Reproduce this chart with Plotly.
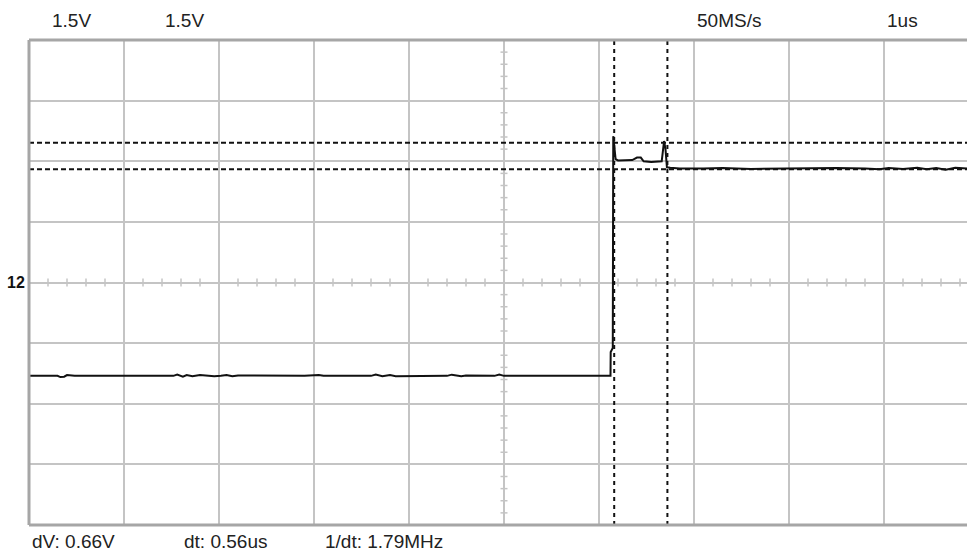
import plotly.graph_objects as go

# ---- data (time in µs, voltage in V; 1 µs/div, 1.5 V/div) ----
t_us = [0.00, 0.30, 0.33, 0.37, 0.40, 0.48, 1.00, 1.52, 1.56, 1.62, 1.66, 1.72, 1.80,
        1.95, 2.02, 2.08, 2.14, 2.20, 2.90, 3.05, 3.10, 3.60, 3.65, 3.72, 3.80, 3.86,
        4.40, 4.45, 4.55, 4.60, 4.90, 4.95, 5.00, 5.50, 6.121,
        6.123, 6.145, 6.150, 6.175, 6.20, 6.35, 6.40, 6.44, 6.47, 6.55, 6.66,
        6.685, 6.700, 6.715, 6.75, 6.85, 7.10, 7.30, 7.60, 7.90, 8.20, 8.50,
        8.80, 8.95, 9.05, 9.20, 9.35, 9.45, 9.55, 9.65, 9.75, 9.874]
v_V = [-2.31, -2.31, -2.34, -2.33, -2.29, -2.31, -2.31, -2.31, -2.28, -2.33, -2.29, -2.32, -2.29,
       -2.32, -2.31, -2.29, -2.32, -2.30, -2.31, -2.29, -2.31, -2.31, -2.28, -2.32, -2.29, -2.32,
       -2.31, -2.28, -2.32, -2.30, -2.31, -2.28, -2.31, -2.31, -2.31,
       -1.72, -1.62, 3.62, 3.05, 3.02, 3.03, 3.09, 3.09, 3.00, 2.98, 3.00,
       3.50, 3.30, 2.85, 2.84, 2.82, 2.82, 2.83, 2.81, 2.82, 2.82, 2.83,
       2.82, 2.80, 2.83, 2.81, 2.84, 2.80, 2.83, 2.79, 2.84, 2.82]

cursor_t = [6.16, 6.72]          # vertical cursors (µs)
cursor_v = [3.46, 2.80]          # horizontal cursors (V)

top_labels = ["1.5V", "1.5V", "50MS/s", "1us"]
top_label_px = [50, 163, 695, 885]
bottom_labels = ["dV: 0.66V", "dt: 0.56us", "1/dt: 1.79MHz"]
bottom_label_px = [30, 182, 323]
channel_label = "12"

# ---- geometry ----
W, H = 967, 555
L, T, B = 29, 40, 30
div_px = 95.0
plot_w = W - L
x_max = plot_w / div_px          # visible part of the 10 divisions
v_per_div = 1.5
y_min, y_max = -4 * v_per_div, 4 * v_per_div
plot_h = H - T - B

grid_col = "#c4c4c4"
font_fam = "Liberation Sans, Arial, sans-serif"

fig = go.Figure()

# small ticks on the centre cross
tx, ty = [], []
xt_len = 4 / plot_h * (y_max - y_min)
yt_len = 3.5 / div_px
k = 0
while k * 0.2 <= x_max + 1e-9:
    xv = k * 0.2
    if k % 5 != 0:
        tx += [xv, xv, None]
        ty += [-xt_len, xt_len, None]
    k += 1
k = 0
while y_min + k * 0.3 <= y_max + 1e-9:
    yv = y_min + k * 0.3
    if k % 5 != 0:
        tx += [5 - yt_len, 5 + yt_len, None]
        ty += [yv, yv, None]
    k += 1
fig.add_trace(go.Scatter(x=tx, y=ty, mode="lines", line=dict(color=grid_col, width=1.5),
                         hoverinfo="skip", showlegend=False))

# waveform
fig.add_trace(go.Scatter(x=t_us, y=v_V, mode="lines", line=dict(color="#111111", width=2),
                         showlegend=False))

# cursors
for c in cursor_t:
    fig.add_shape(type="line", xref="x", yref="paper", x0=c, x1=c, y0=0, y1=1,
                  line=dict(color="#111111", width=2, dash="4px,4px"))
for c in cursor_v:
    fig.add_shape(type="line", xref="paper", yref="y", x0=0, x1=1, y0=c, y1=c,
                  line=dict(color="#111111", width=2, dash="5px,3px"))

# border (left, top, bottom)
bcol = "#a6a6a6"
fig.add_shape(type="line", xref="paper", yref="paper", x0=0, x1=0, y0=0, y1=1,
              line=dict(color=bcol, width=3))
fig.add_shape(type="line", xref="paper", yref="paper", x0=0, x1=1, y0=1, y1=1,
              line=dict(color=bcol, width=3))
fig.add_shape(type="line", xref="paper", yref="paper", x0=0, x1=1, y0=0, y1=0,
              line=dict(color=bcol, width=3))

for txt, px in zip(top_labels, top_label_px):
    fig.add_annotation(text=txt, xref="paper", yref="paper", x=(px - L) / plot_w,
                       y=(H - B - 21) / plot_h, xanchor="left", yanchor="middle",
                       showarrow=False, font=dict(size=19, color="#222222", family=font_fam))
for txt, px in zip(bottom_labels, bottom_label_px):
    fig.add_annotation(text=txt, xref="paper", yref="paper", x=(px - L) / plot_w,
                       y=(H - B - 541) / plot_h, xanchor="left", yanchor="middle",
                       showarrow=False, font=dict(size=19, color="#222222", family=font_fam))
fig.add_annotation(text="<b>" + channel_label + "</b>", xref="paper", yref="y", x=-2 / plot_w, y=0,
                   xanchor="right", yanchor="middle", showarrow=False,
                   font=dict(size=16, color="#111111", family=font_fam))

fig.update_xaxes(range=[0, x_max], dtick=1, tick0=0, showgrid=True, gridcolor=grid_col,
                 gridwidth=2, zeroline=False, showticklabels=False, ticks="", showline=False)
fig.update_yaxes(range=[y_min, y_max], dtick=v_per_div, tick0=0, showgrid=True,
                 gridcolor=grid_col, gridwidth=2, zeroline=False, showticklabels=False,
                 ticks="", showline=False)
fig.update_layout(width=W, height=H, margin=dict(l=L, r=0, t=T, b=B),
                  paper_bgcolor="white", plot_bgcolor="white")

fig.write_html("out.html", config={"displayModeBar": False},
               post_script="document.body.style.margin='0';document.body.style.overflow='hidden';")
